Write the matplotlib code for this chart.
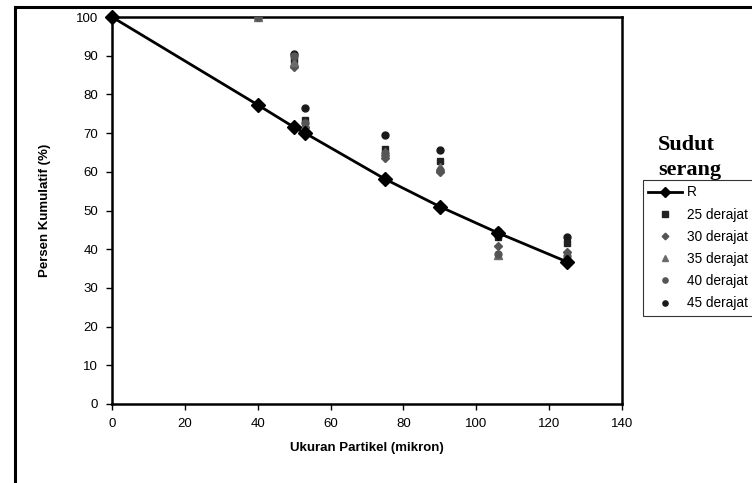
import matplotlib
matplotlib.use("Agg")
import matplotlib.pyplot as plt
from matplotlib.lines import Line2D

plt.rcParams['font.family'] = ['Liberation Sans', 'DejaVu Sans']

# Data
x_R = [0, 40, 50, 53, 75, 90, 106, 125]
y_R = [100, 77.3, 71.5, 70.0, 58.1, 51.0, 44.2, 36.7]

x_pts = [40, 50, 53, 75, 90, 106, 125]
y_25 = [100, 89.0, 73.3, 66.0, 62.8, 43.2, 41.6]
y_30 = [100, 87.0, 71.6, 63.5, 60.0, 40.8, 39.3]
y_35 = [100, 88.5, 72.3, 65.0, 61.3, 38.5, 38.0]
y_40 = [100, 89.8, 72.6, 64.8, 60.5, 38.8, 38.2]
y_45 = [100, 90.5, 76.5, 69.5, 65.6, 44.7, 43.2]

x_ticks = [0, 20, 40, 60, 80, 100, 120, 140]
y_ticks = [0, 10, 20, 30, 40, 50, 60, 70, 80, 90, 100]

fig = plt.figure(figsize=(7.52, 4.83), dpi=100)
ax = fig.add_axes([112/752, 1-404/483, (622-112)/752, (404-17)/483])

ax.plot(x_R, y_R, color='black', lw=2, marker='D', markersize=7, label='R', zorder=5, clip_on=False)
ax.plot(x_pts, y_25, ls='none', marker='s', color='#222222', markersize=5, label='25 derajat', zorder=3)
ax.plot(x_pts, y_30, ls='none', marker='D', color='#555555', markersize=4.5, label='30 derajat', zorder=3)
ax.plot(x_pts, y_35, ls='none', marker='^', color='#6a6a6a', markersize=5.5, label='35 derajat', zorder=3)
ax.plot(x_pts, y_40, ls='none', marker='o', color='#555555', markersize=5, label='40 derajat', zorder=3)
ax.plot(x_pts, y_45, ls='none', marker='o', color='#1a1a1a', markersize=5, label='45 derajat', zorder=2)

ax.set_xlim(0, 140)
ax.set_ylim(0, 100)
ax.set_xticks(x_ticks)
ax.set_yticks(y_ticks)
for s in ax.spines.values():
    s.set_linewidth(1.8)
    s.set_color('black')
ax.tick_params(direction='out', length=4, width=1, labelsize=9.5, pad=6)
ax.set_xlabel('Ukuran Partikel (mikron)', fontsize=9.5, fontweight='bold', labelpad=9)
ax.set_ylabel('Persen Kumulatif (%)', fontsize=9.5, fontweight='bold', labelpad=18)

leg = fig.legend(loc='upper left', bbox_to_anchor=(643/752, 1-180/483), frameon=True,
                 fancybox=False, edgecolor='black', fontsize=9.8, handlelength=2.5,
                 handletextpad=0.35, labelspacing=0.6, borderpad=0.4, borderaxespad=0,
                 markerscale=0.75)
leg.get_frame().set_linewidth(0.8)

fig.text(658/752, 1-175/483, 'Sudut\nserang', fontsize=16, fontweight='bold',
         family=['Liberation Serif', 'DejaVu Serif'], ha='left', va='baseline', linespacing=1.3)

# outer page border lines
fig.add_artist(Line2D([15/752, 1], [1-7/483, 1-7/483], color='black', lw=2.2, transform=fig.transFigure))
fig.add_artist(Line2D([15/752, 15/752], [0, 1-7/483], color='black', lw=2.2, transform=fig.transFigure))

fig.savefig('out.png', dpi=100)
